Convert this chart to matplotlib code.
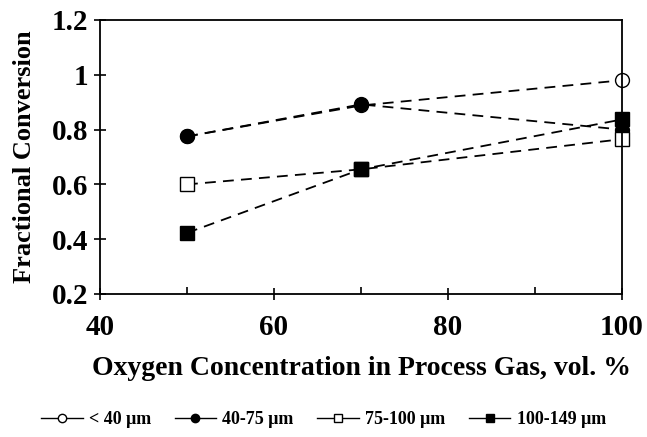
import numpy as np
import matplotlib.pyplot as plt
from matplotlib.lines import Line2D
from matplotlib.ticker import MultipleLocator

# data
oxygen = [50, 70, 100]
conv_lt40 = [0.775, 0.888, 0.98]
conv_40_75 = [0.775, 0.892, 0.80]
conv_75_100 = [0.60, 0.655, 0.765]
conv_100_149 = [0.423, 0.655, 0.837]
labels = ["< 40 \u03bcm", "40-75 \u03bcm", "75-100 \u03bcm", "100-149 \u03bcm"]

plt.rcParams['font.family'] = ['Liberation Serif', 'DejaVu Serif']
plt.rcParams['font.weight'] = 'bold'

fig = plt.figure(figsize=(6.47, 4.37), dpi=100)
ax = fig.add_axes([100 / 647, 1 - 294 / 437, 522 / 647, 274 / 437])

styles = [
    dict(marker='o', mfc='white', mec='black', ms=10),
    dict(marker='o', mfc='black', mec='black', ms=10),
    dict(marker='s', mfc='white', mec='black', ms=9.5),
    dict(marker='s', mfc='black', mec='black', ms=9.5),
]
series = [conv_lt40, conv_40_75, conv_75_100, conv_100_149]
for y, st in zip(series, styles):
    ax.plot(oxygen, y, color='black', lw=1.3, ls=(0, (6, 4)), clip_on=False, **st)

ax.set_xlim(40, 100)
ax.set_ylim(0.2, 1.2)
ax.xaxis.set_major_locator(MultipleLocator(20))
ax.xaxis.set_minor_locator(MultipleLocator(10))
ax.set_yticks([0.2, 0.4, 0.6, 0.8, 1.0, 1.2])
ax.set_yticklabels(['0.2', '0.4', '0.6', '0.8', '1', '1.2'])
ax.tick_params(which='major', direction='inout', length=9, width=1.2, labelsize=21)
ax.tick_params(axis='x', which='major', pad=10)
ax.tick_params(axis='y', which='major', pad=4)
ax.tick_params(axis='x', which='minor', direction='in', length=5, width=1.2)
for s in ax.spines.values():
    s.set_linewidth(1.3)

ax.set_xlabel('Oxygen Concentration in Process Gas, vol. %', fontsize=20, fontweight='bold', labelpad=11)
ax.set_ylabel('Fractional Conversion', fontsize=19, fontweight='bold', labelpad=11)

handles = [Line2D([], [], color='black', lw=1, marker=st['marker'], mfc=st['mfc'],
                  mec='black', ms=6) for st in styles]
fig.legend(handles, labels, loc='center', bbox_to_anchor=(0.5, 1 - 420 / 437), ncol=4,
           frameon=False, fontsize=13, handlelength=2.3, columnspacing=1.3, handletextpad=0.35)

fig.savefig('out.png', dpi=100)
